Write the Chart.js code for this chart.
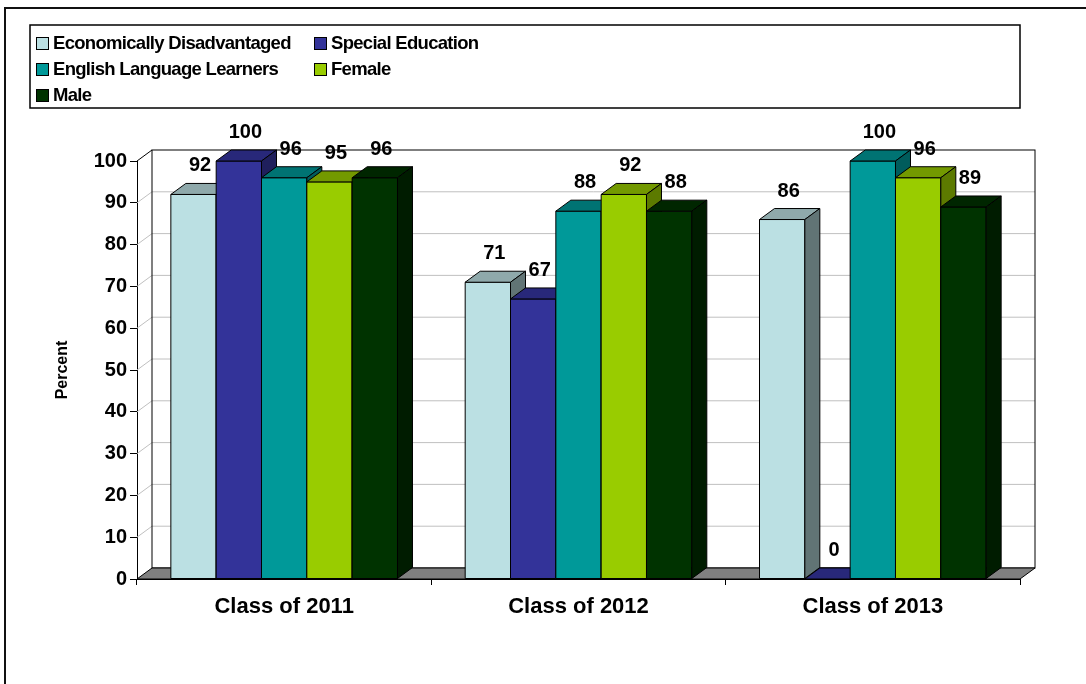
<!DOCTYPE html>
<html>
<head>
<meta charset="utf-8">
<title>Percent by group</title>
<script src="https://cdn.jsdelivr.net/npm/chart.js@4/dist/chart.umd.min.js"></script>
<style>
  body { margin: 0; background: #fff; }
  canvas { display: block; }
</style>
</head>
<body>
<canvas id="myChart" width="1086" height="684"></canvas>
<script>
// categories and series
const classes = ['Class of 2011', 'Class of 2012', 'Class of 2013'];
const groups = ['Economically Disadvantaged', 'Special Education', 'English Language Learners', 'Female', 'Male'];
const econDisadvantaged = [92, 71, 86];
const specialEducation = [100, 67, 0];
const englishLearners = [96, 88, 100];
const female = [95, 92, 96];
const male = [96, 88, 89];
const yTicks = [0, 10, 20, 30, 40, 50, 60, 70, 80, 90, 100];

// face colours: front, top, side
const frontColors = ['#BBE0E3', '#333399', '#009999', '#99CC00', '#003300'];
const topColors   = ['#8FA9AB', '#28287A', '#007373', '#739900', '#002600'];
const sideColors  = ['#617475', '#1F1F5C', '#005C5C', '#5C7A00', '#001C00'];

const FONT = '"Liberation Sans", Arial, sans-serif';
const DX = 15, DY = 11;   // depth offset of the 3D look

const seriesValues = [econDisadvantaged, specialEducation, englishLearners, female, male];

function poly(ctx, pts, fill) {
    ctx.beginPath();
    ctx.moveTo(pts[0][0], pts[0][1]);
    for (let i = 1; i < pts.length; i++) ctx.lineTo(pts[i][0], pts[i][1]);
    ctx.closePath();
    if (fill) { ctx.fillStyle = fill; ctx.fill(); }
    ctx.stroke();
}

const bars3d = {
    id: 'bars3d',
    beforeDraw(chart) {
        const ctx = chart.ctx;
        ctx.save();
        ctx.fillStyle = '#fff';
        ctx.fillRect(0, 0, chart.width, chart.height);
        ctx.strokeStyle = '#111';
        ctx.lineWidth = 2;
        ctx.strokeRect(5, 8, chart.width + 20, chart.height + 20);
        ctx.restore();
    },
    beforeDatasetsDraw(chart) {
        const ctx = chart.ctx;
        const y = chart.scales.y;
        const a = chart.chartArea;
        ctx.save();
        ctx.lineWidth = 1;
        // gridlines on the left wall and the back wall
        ctx.strokeStyle = '#c0c0c0';
        yTicks.forEach(v => {
            if (v === 0 || v === 100) return;
            const py = y.getPixelForValue(v);
            ctx.beginPath();
            ctx.moveTo(a.left, py);
            ctx.lineTo(a.left + DX, py - DY);
            ctx.lineTo(a.right + DX, py - DY);
            ctx.stroke();
        });
        // back wall outline
        ctx.strokeStyle = '#000';
        ctx.strokeRect(a.left + DX, a.top - DY, a.right - a.left, a.bottom - a.top);
        // top edge of left wall
        ctx.beginPath();
        ctx.moveTo(a.left, a.top);
        ctx.lineTo(a.left + DX, a.top - DY);
        ctx.stroke();
        // floor
        poly(ctx, [[a.left, a.bottom], [a.right, a.bottom], [a.right + DX, a.bottom - DY], [a.left + DX, a.bottom - DY]], '#808080');
        ctx.restore();
    },
    afterDatasetsDraw(chart) {
        const ctx = chart.ctx;
        ctx.save();
        ctx.lineWidth = 1;
        ctx.strokeStyle = '#000';
        ctx.lineJoin = 'miter';
        for (let i = 0; i < classes.length; i++) {
            chart.data.datasets.forEach((ds, d) => {
                const el = chart.getDatasetMeta(d).data[i];
                const L = el.x - el.width / 2, R = el.x + el.width / 2;
                const T = el.y, B = el.base;
                poly(ctx, [[L, T], [R, T], [R, B], [L, B]], frontColors[d]);
                poly(ctx, [[L, T], [R, T], [R + DX, T - DY], [L + DX, T - DY]], topColors[d]);
                poly(ctx, [[R, T], [R + DX, T - DY], [R + DX, B - DY], [R, B]], sideColors[d]);
            });
        }
        ctx.restore();
    },
    afterDraw(chart) {
        const ctx = chart.ctx;
        ctx.save();
        // value labels
        ctx.fillStyle = '#000';
        ctx.font = 'bold 20px ' + FONT;
        ctx.textAlign = 'center';
        ctx.textBaseline = 'alphabetic';
        chart.data.datasets.forEach((ds, d) => {
            chart.getDatasetMeta(d).data.forEach((el, i) => {
                ctx.fillText(String(ds.data[i]), el.x + DX / 2 - 1, el.y - DY - 12);
            });
        });
        // legend box
        ctx.strokeStyle = '#000';
        ctx.lineWidth = 1.5;
        ctx.strokeRect(30, 25, 990, 83);
        const cols = [36, 314];
        const rows = [43, 69, 95];
        ctx.font = 'bold 18.5px ' + FONT;
        ctx.letterSpacing = '-0.7px';
        ctx.textAlign = 'left';
        ctx.textBaseline = 'middle';
        ctx.lineWidth = 1;
        groups.forEach((name, k) => {
            const cx = cols[k % 2], cy = rows[Math.floor(k / 2)];
            ctx.fillStyle = frontColors[k];
            ctx.fillRect(cx + 0.5, cy - 5.5, 12, 12);
            ctx.strokeStyle = '#000';
            ctx.strokeRect(cx + 0.5, cy - 5.5, 12, 12);
            ctx.fillStyle = '#000';
            ctx.fillText(name, cx + 17, cy + 1);
        });
        ctx.restore();
    }
};

const ctx = document.getElementById('myChart').getContext('2d');
const myChart = new Chart(ctx, {
    type: 'bar',
    data: {
        labels: classes,
        datasets: groups.map((g, k) => ({
            label: g,
            data: seriesValues[k],
            backgroundColor: 'rgba(0,0,0,0)',
            borderWidth: 0
        }))
    },
    options: {
        responsive: false,
        animation: false,
        devicePixelRatio: 1,
        categoryPercentage: 0.77,
        barPercentage: 1,
        layout: { padding: { left: 0, right: 66, top: 161, bottom: 0 } },
        plugins: {
            legend: { display: false },
            tooltip: { enabled: false }
        },
        scales: {
            x: {
                grid: { drawOnChartArea: false, drawTicks: true, tickLength: 6, color: '#000', offset: true },
                border: { display: true, color: '#000' },
                ticks: { color: '#000', padding: 9, font: { family: FONT, size: 22, weight: 'bold' } },
                afterFit(scale) { scale.height = 105; }
            },
            y: {
                min: 0,
                max: 100,
                afterBuildTicks(scale) { scale.ticks = yTicks.map(v => ({ value: v })); },
                grid: { drawOnChartArea: false, drawTicks: true, tickLength: 7, color: '#000' },
                border: { display: true, color: '#000' },
                ticks: { color: '#000', padding: 3, font: { family: FONT, size: 20, weight: 'bold' } },
                title: {
                    display: true,
                    text: 'Percent',
                    color: '#000',
                    padding: { top: 53, bottom: 0 },
                    font: { family: FONT, size: 16, weight: 'bold' }
                },
                afterFit(scale) { scale.width = 137; }
            }
        }
    },
    plugins: [bars3d]
});
</script>
</body>
</html>
